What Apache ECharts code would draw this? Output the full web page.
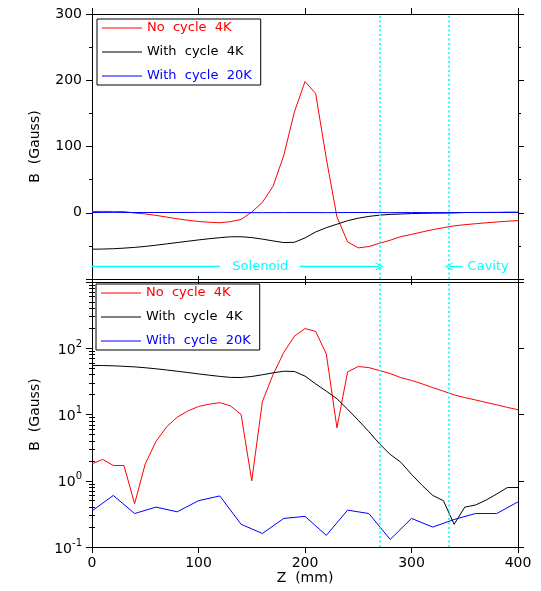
<!DOCTYPE html>
<html><head><meta charset="utf-8">
<script src="https://cdn.jsdelivr.net/npm/echarts@6/dist/echarts.min.js"></script>
<style>html,body{margin:0;padding:0;background:#fff}#c{width:541px;height:591px}</style>
</head><body><div id="c"></div>
<script>
// ---- data ----
const zRed = [0,10,20,30,40,50,60,70,80,90,100,110,120,130,140,150,160,170,180,190,200,210,220,230,240,250,260,270,280,290,300,310,320,330,340,350,360,370,380,390,400];
const noCycle4K = [1.8,2.1,1.7,1.7,-0.45,-1.8,-3.9,-6.5,-9.1,-11.3,-13.2,-14.3,-15.1,-13.5,-10,1.0,15.7,40,86,152,198,180,82,-6.3,-44,-53,-51,-46,-41.5,-36,-32.7,-29,-25.5,-22.5,-19.8,-18,-16.6,-15.2,-14,-12.8,-11.8];
const withCycle4K = [-55,-54.8,-54.3,-53.4,-52.3,-50.8,-49,-47,-45,-43,-41,-39.2,-37.6,-36.3,-36.2,-37.5,-39.8,-42.5,-45,-44.6,-38,-29,-22.5,-17.3,-12,-8.2,-5.5,-3.6,-2.5,-1.9,-1.25,-0.85,-0.6,-0.5,-0.22,0.4,0.43,0.51,0.63,0.79,0.79];
const zBlue = [0,20,40,60,80,100,120,140,160,180,200,220,240,260,280,300,320,340,360,380,400];
const withCycle20K = [0.35,0.6,0.32,0.4,0.34,0.5,0.59,0.22,0.16,0.27,0.29,0.15,0.36,0.32,0.13,0.27,0.2,0.26,0.32,0.32,0.48];
const seriesNames = ['No  cycle  4K','With  cycle  4K','With  cycle  20K'];
const seriesColors = ['#ff0000','#000000','#0000ff'];
const logMajor = [0.1,1,10,100,1000];
const logMinor = [0.2,0.3,0.4,0.5,0.6,0.7,0.8,0.9,2,3,4,5,6,7,8,9,20,30,40,50,60,70,80,90,200,300,400,500,600,700,800,900];
const boundaryZ = [270,335];          // solenoid end / cavity start
const annotY = -81;                   // level of the cyan arrows (Gauss)
const solenoidLine = [0,120];
const solenoidArrow = [195,270];
const cavityArrow = [335,348];
const solenoidTextZ = 158, cavityTextZ = 372;

const FONT = 'DejaVu Sans';
const CYAN = '#00ffff';
const zip = (xs, ys) => xs.map((x,i)=>[x, ys[i]]);
const absArr = a => a.map(v=>Math.abs(v));

function xAx(gridIndex, position, showLabel, name){
  return {type:'value', gridIndex, position, min:0, max:400, interval:100,
    name: name||'', nameLocation:'middle', nameGap:24,
    nameTextStyle:{color:'#000', fontSize:14, fontFamily:FONT},
    axisLine:{show:true, onZero:false, lineStyle:{color:'#000', width:1}},
    axisTick:{show:true, inside:false, length:6, lineStyle:{color:'#000', width:1}},
    axisLabel:{show:showLabel, margin:9, color:'#000', fontSize:14, fontFamily:FONT},
    splitLine:{show:false}};
}
function yLin(position, showLabel, name){
  return {type:'value', gridIndex:0, position, min:-100, max:300, interval:100,
    name: name||'', nameLocation:'middle', nameGap:50, nameRotate:90,
    nameTextStyle:{color:'#000', fontSize:14, fontFamily:FONT},
    axisLine:{show:true, onZero:false, lineStyle:{color:'#000', width:1}},
    axisTick:{show:true, inside:false, length:6, lineStyle:{color:'#000', width:1}},
    minorTick:{show:true, splitNumber:2, length:3, lineStyle:{color:'#000', width:1}},
    axisLabel:{show:showLabel, margin:10, color:'#000', fontSize:14, fontFamily:FONT,
      formatter: v => v <= -100 ? '' : String(v)},
    splitLine:{show:false}, minorSplitLine:{show:false}};
}
function yLog(position, showLabel, name){
  return {type:'log', logBase:10, gridIndex:1, position, min:0.1, max:1000,
    name: name||'', nameLocation:'middle', nameGap:50, nameRotate:90,
    nameTextStyle:{color:'#000', fontSize:14, fontFamily:FONT},
    axisLine:{show:true, onZero:false, lineStyle:{color:'#000', width:1}},
    axisTick:{show:true, inside:false, length:6, customValues:logMajor, lineStyle:{color:'#000', width:1}},
    axisLabel:{show:showLabel, margin:10, color:'#000', customValues:logMajor,
      formatter: v => { if (v > 500) return ''; const e = Math.round(Math.log10(v)); return '{b|10}{s|' + (e<0?'-':'') + Math.abs(e) + '}'; },
      rich:{ b:{fontSize:14, lineHeight:18, verticalAlign:'bottom', fontFamily:FONT, color:'#000'},
             s:{fontSize:10, lineHeight:10, verticalAlign:'top', fontFamily:FONT, color:'#000'} }},
    splitLine:{show:false}};
}
function yLogMinor(position){
  return {type:'log', logBase:10, gridIndex:1, position, min:0.1, max:1000,
    axisLine:{show:false}, axisLabel:{show:false}, splitLine:{show:false},
    axisTick:{show:true, inside:false, length:3, customValues:logMinor, lineStyle:{color:'#000', width:1}}};
}
function legendAt(left, top){
  return {left, top, orient:'vertical', itemWidth:40, itemHeight:1.2, itemGap:10, icon:'rect',
    padding:[2,9,2,5], borderColor:'#000', borderWidth:1, backgroundColor:'#fff', borderRadius:0,
    selectedMode:false,
    textStyle:{fontSize:13, fontFamily:FONT, lineHeight:14},
    data: seriesNames.map((n,i)=>({name:n, textStyle:{color:seriesColors[i]}}))};
}
function line(name, color, data, xi, yi, extra){
  return Object.assign({type:'line', name, data, xAxisIndex:xi, yAxisIndex:yi, showSymbol:false, symbol:'none',
    lineStyle:{color, width:1}, itemStyle:{color}, animation:false, silent:true, z:2}, extra||{});
}
function boundarySeries(xi, yi){
  return {type:'line', name:'boundaries', data:[], xAxisIndex:xi, yAxisIndex:yi, silent:true, animation:false, z:1,
    itemStyle:{color:CYAN}, lineStyle:{color:CYAN},
    markLine:{silent:true, animation:false, symbol:['none','none'], label:{show:false},
      emphasis:{disabled:true},
      lineStyle:{color:CYAN, width:1.6, type:[2,2.5], opacity:1},
      data: boundaryZ.map(z=>({xAxis:z}))}};
}
const arrowHead = 'path://M5,0 L10,10 L8.6,10 L5,2.6 L1.4,10 L0,10 Z';

const option = {
  animation:false,
  backgroundColor:'#fff',
  grid:[
    {left:92, right:23, top:14, height:265},
    {left:92, right:23, top:282, height:265}
  ],
  xAxis:[ xAx(0,'bottom',false), xAx(0,'top',false), xAx(1,'bottom',true,'Z  (mm)'), xAx(1,'top',false) ],
  yAxis:[ yLin('left',true,'B  (Gauss)'), yLin('right',false), yLog('left',true,'B  (Gauss)'), yLog('right',false), yLogMinor('left'), yLogMinor('right') ],
  legend:[ legendAt(97,19), legendAt(96,284) ],
  series:[
    boundarySeries(0,0),
    boundarySeries(2,2),
    {type:'line', name:'annotations', data:[], xAxisIndex:0, yAxisIndex:0, silent:true, animation:false, z:1,
      itemStyle:{color:CYAN}, lineStyle:{color:CYAN},
      markLine:{silent:true, animation:false, symbol:['none','none'], label:{show:false},
        emphasis:{disabled:true},
        lineStyle:{color:CYAN, width:1.3, type:'solid', opacity:1},
        data:[
          [{coord:[solenoidLine[0], annotY]}, {coord:[solenoidLine[1], annotY]}],
          [{coord:[solenoidArrow[0], annotY]}, {coord:[solenoidArrow[1], annotY], symbol:arrowHead, symbolSize:[8,8]}],
          [{coord:[cavityArrow[0], annotY], symbol:arrowHead, symbolSize:[8,8]}, {coord:[cavityArrow[1], annotY]}]
        ]},
      markPoint:{silent:true, animation:false, symbol:'circle', symbolSize:0,
        label:{show:true, position:'inside', color:CYAN, fontSize:13, fontFamily:FONT},
        data:[
          {coord:[solenoidTextZ, annotY], label:{formatter:'Solenoid'}},
          {coord:[cavityTextZ, annotY], label:{formatter:'Cavity'}}
        ]}
    },
    line(seriesNames[0], seriesColors[0], zip(zRed, noCycle4K), 0, 0),
    line(seriesNames[1], seriesColors[1], zip(zRed, withCycle4K), 0, 0),
    line(seriesNames[2], seriesColors[2], zip(zBlue, withCycle20K), 0, 0),
    line(seriesNames[0], seriesColors[0], zip(zRed, absArr(noCycle4K)), 2, 2),
    line(seriesNames[1], seriesColors[1], zip(zRed, absArr(withCycle4K)), 2, 2),
    line(seriesNames[2], seriesColors[2], zip(zBlue, withCycle20K), 2, 2)
  ]
};
const chart = echarts.init(document.getElementById('c'), null, {renderer:'canvas'});
chart.setOption(option);
</script></body></html>
